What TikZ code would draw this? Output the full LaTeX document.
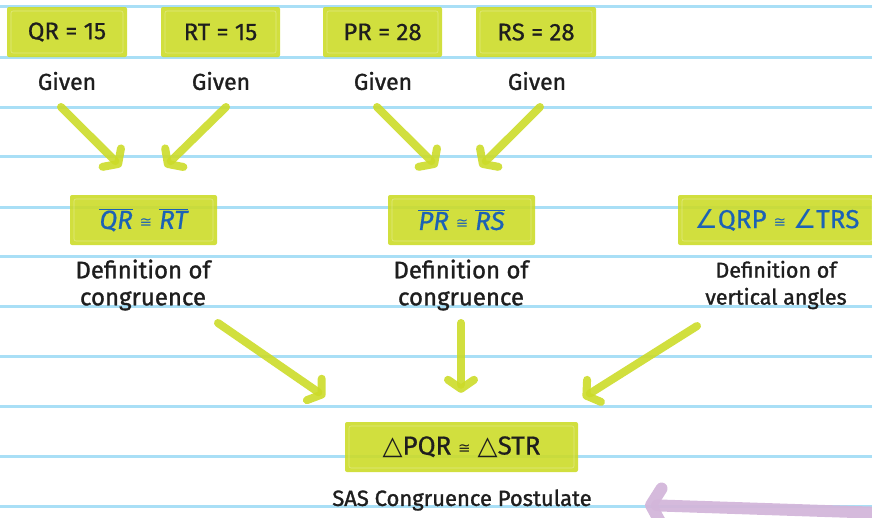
\documentclass[tikz,border=0pt]{standalone}
\usepackage{fontspec}
\setmainfont{Fira Sans}
\newfontfamily\hand{Fira Sans}[FakeBold=1.3]
\newfontfamily\boxf{Fira Sans}[FakeBold=0.6]
\newfontfamily\symf{DejaVu Sans}
\usetikzlibrary{arrows.meta}
\definecolor{lime}{HTML}{CCDB29}
\definecolor{rulec}{HTML}{A9DFF6}
\definecolor{bluet}{HTML}{1C62B5}
\definecolor{purp}{HTML}{D3B6DA}
\definecolor{ink}{HTML}{1E1E1E}
\newcommand{\cg}{{\symf\fontsize{15}{15}\selectfont\raisebox{1pt}{≅}}}
\newcommand{\seg}[1]{$\overline{\mbox{\itshape #1}}$}
\begin{document}
\begin{tikzpicture}[x=1pt,y=-1pt,
  box/.style={fill=lime, fill opacity=0.9, text opacity=1, rounded corners=2pt,
    minimum height=50pt, inner sep=0pt, text=ink,
    font=\boxf\fontsize{24}{26}\selectfont,
    path picture={\draw[white,opacity=.35,line width=0.6pt]
      ([shift={(4pt,-4pt)}]path picture bounding box.north west) rectangle
      ([shift={(-4pt,4pt)}]path picture bounding box.south east);}},
  lbl/.style={text=ink, font=\hand\fontsize{23}{27}\selectfont, align=center, inner sep=0pt},
  arr/.style={draw=lime, draw opacity=0.9, line width=8pt, line cap=round,
    -{Straight Barb[round,length=9pt,width=26pt]}},
  parr/.style={draw=purp, draw opacity=0.95, line width=12pt, line cap=round,
    -{Straight Barb[round,length=10pt,width=34pt]}}]
\useasboundingbox (0,0) rectangle (872,517);
\clip (0,0) rectangle (872,517);
% ruled lines
\foreach \y in {6,57,107,156,207,256,306,356,406,456,506}
  \draw[rulec, line width=3pt] (0,\y) -- (872,\y);
% top boxes
\node[box, minimum width=120pt] (t1) at (67,32) {QR = 15};
\node[box, minimum width=119pt] (t2) at (220.5,32) {RT = 15};
\node[box, minimum width=119pt] (t3) at (382.5,32) {PR = 28};
\node[box, minimum width=120pt] (t4) at (536,32) {RS = 28};
\node[lbl] (g1) at (67,81) {Given};
\node[lbl] (g2) at (221,81) {Given};
\node[lbl] (g3) at (383,81) {Given};
\node[lbl] (g4) at (537,81) {Given};
% middle boxes
\node[box, minimum width=147pt, text=bluet, font=\boxf\fontsize{26}{28}\selectfont] (m1) at (143.5,220) {\seg{QR} \cg{} \seg{RT}};
\node[box, minimum width=147pt, text=bluet, font=\boxf\fontsize{26}{28}\selectfont] (m2) at (461.5,220) {\seg{PR} \cg{} \seg{RS}};
\node[box, minimum width=198pt, text=bluet, font=\boxf\fontsize{26}{28}\selectfont] (m3) at (777,220) {{\symf ∠}QRP \cg{} {\symf ∠}TRS};
\node[lbl, font=\hand\fontsize{24}{27}\selectfont] (d1) at (143,285) {Definition of\\congruence};
\node[lbl, font=\hand\fontsize{24}{27}\selectfont] (d2) at (461,285) {Definition of\\congruence};
\node[lbl, font=\hand\fontsize{21.5}{27}\selectfont] (d3) at (776,285) {Definition of\\vertical angles};
% bottom
\node[box, minimum width=233pt, font=\boxf\fontsize{26}{28}\selectfont] (b) at (461.5,447) {{\symf △}PQR \cg{} {\symf △}STR};
\node[lbl, font=\hand\fontsize{22}{27}\selectfont] (s) at (462,500) {SAS Congruence Postulate};
% arrows
\draw[arr] ([shift={(-6,26)}]g1.center) -- ([shift={(-22.5,-28)}]m1.north);
\draw[arr] ([shift={(5,26)}]g2.center) -- ([shift={(21.5,-28)}]m1.north);
\draw[arr] ([shift={(-6,26)}]g3.center) -- ([shift={(-24.5,-28)}]m2.north);
\draw[arr] ([shift={(3,26)}]g4.center) -- ([shift={(18.5,-28)}]m2.north);
\draw[arr] ([shift={(75,38)}]d1.center) -- ([shift={(-136.5,-25)}]b.north);
\draw[arr] ([shift={(0,38)}]d2.center) -- ([shift={(-0.5,-29)}]b.north);
\draw[arr] ([shift={(-79,41)}]d3.center) -- ([shift={(121.5,-24)}]b.north);
\coordinate (pstart) at (885,513);
\draw[parr] (pstart) -- ([shift={(183,5)}]s.center);
\end{tikzpicture}
\end{document}
